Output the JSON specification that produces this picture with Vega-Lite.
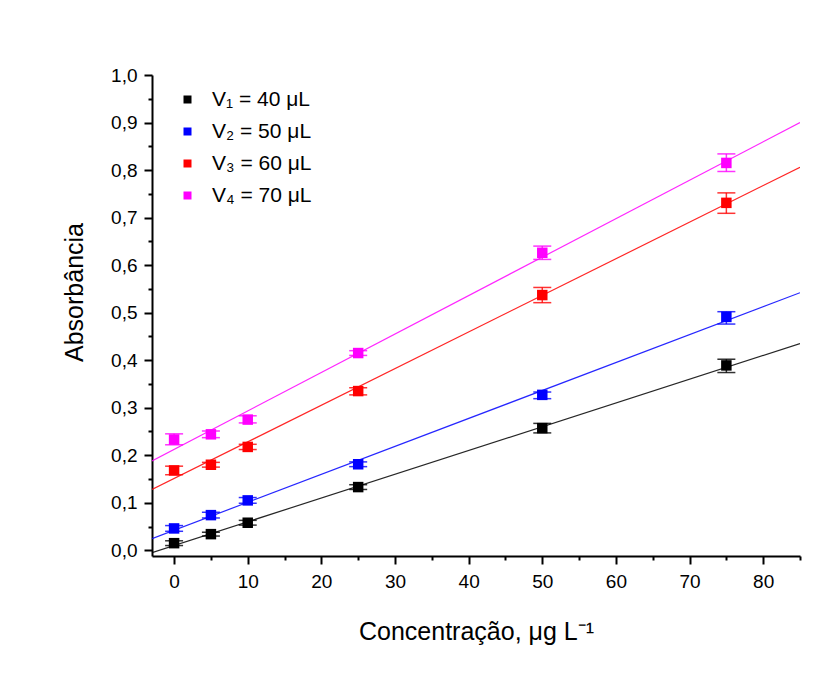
{
  "$schema": "https://vega.github.io/schema/vega-lite/v6.json",
  "autosize": {"type": "none"},
  "padding": {"left": 152, "top": 75, "right": 36, "bottom": 130},
  "width": 648,
  "height": 481,
  "background": "white",
  "config": {
    "font": "Liberation Sans",
    "view": {"stroke": null},
    "axis": {"domainColor": "black", "domainWidth": 2, "tickColor": "black", "tickWidth": 2, "labelColor": "black", "titleColor": "black", "labelFont": "Liberation Sans", "titleFont": "Liberation Sans", "labelFontSize": 19, "titleFontSize": 25, "titleFontWeight": "normal", "grid": false}
  },
  "datasets": {
    "pts": [
      {"series": "V₁ = 40 μL", "conc": 0, "abs": 0.015, "lo": 0.010, "hi": 0.020},
      {"series": "V₁ = 40 μL", "conc": 5, "abs": 0.034, "lo": 0.030, "hi": 0.038},
      {"series": "V₁ = 40 μL", "conc": 10, "abs": 0.058, "lo": 0.053, "hi": 0.063},
      {"series": "V₁ = 40 μL", "conc": 25, "abs": 0.133, "lo": 0.128, "hi": 0.138},
      {"series": "V₁ = 40 μL", "conc": 50, "abs": 0.257, "lo": 0.247, "hi": 0.267},
      {"series": "V₁ = 40 μL", "conc": 75, "abs": 0.389, "lo": 0.374, "hi": 0.402},
      {"series": "V₂ = 50 μL", "conc": 0, "abs": 0.046, "lo": 0.040, "hi": 0.052},
      {"series": "V₂ = 50 μL", "conc": 5, "abs": 0.074, "lo": 0.068, "hi": 0.080},
      {"series": "V₂ = 50 μL", "conc": 10, "abs": 0.105, "lo": 0.099, "hi": 0.111},
      {"series": "V₂ = 50 μL", "conc": 25, "abs": 0.181, "lo": 0.176, "hi": 0.186},
      {"series": "V₂ = 50 μL", "conc": 50, "abs": 0.327, "lo": 0.319, "hi": 0.333},
      {"series": "V₂ = 50 μL", "conc": 75, "abs": 0.491, "lo": 0.476, "hi": 0.502},
      {"series": "V₃ = 60 μL", "conc": 0, "abs": 0.168, "lo": 0.159, "hi": 0.177},
      {"series": "V₃ = 60 μL", "conc": 5, "abs": 0.180, "lo": 0.175, "hi": 0.185},
      {"series": "V₃ = 60 μL", "conc": 10, "abs": 0.2175, "lo": 0.212, "hi": 0.223},
      {"series": "V₃ = 60 μL", "conc": 25, "abs": 0.335, "lo": 0.327, "hi": 0.342},
      {"series": "V₃ = 60 μL", "conc": 50, "abs": 0.537, "lo": 0.521, "hi": 0.553},
      {"series": "V₃ = 60 μL", "conc": 75, "abs": 0.731, "lo": 0.709, "hi": 0.752},
      {"series": "V₄ = 70 μL", "conc": 0, "abs": 0.233, "lo": 0.222, "hi": 0.245},
      {"series": "V₄ = 70 μL", "conc": 5, "abs": 0.244, "lo": 0.237, "hi": 0.251},
      {"series": "V₄ = 70 μL", "conc": 10, "abs": 0.275, "lo": 0.268, "hi": 0.283},
      {"series": "V₄ = 70 μL", "conc": 25, "abs": 0.415, "lo": 0.410, "hi": 0.420},
      {"series": "V₄ = 70 μL", "conc": 50, "abs": 0.626, "lo": 0.612, "hi": 0.640},
      {"series": "V₄ = 70 μL", "conc": 75, "abs": 0.815, "lo": 0.797, "hi": 0.834}
    ],
    "fits": [
      {"series": "V₁ = 40 μL", "conc": -3, "abs": -0.005},
      {"series": "V₁ = 40 μL", "conc": 85, "abs": 0.435},
      {"series": "V₂ = 50 μL", "conc": -3, "abs": 0.0246},
      {"series": "V₂ = 50 μL", "conc": 85, "abs": 0.542},
      {"series": "V₃ = 60 μL", "conc": -3, "abs": 0.128},
      {"series": "V₃ = 60 μL", "conc": 85, "abs": 0.806},
      {"series": "V₄ = 70 μL", "conc": -3, "abs": 0.188},
      {"series": "V₄ = 70 μL", "conc": 85, "abs": 0.900}
    ]
  },
  "encoding": {
    "x": {"field": "conc", "type": "quantitative", "scale": {"domain": [-3, 85], "nice": false, "zero": false},
      "axis": {"title": "Concentração, μg L⁻¹", "values": [0,5,10,15,20,25,30,35,40,45,50,55,60,65,70,75,80,85],
        "labelExpr": "datum.value % 10 == 0 ? datum.label : ''", "labelPadding": 8,
        "tickSize": {"condition": {"test": "datum.value % 10 == 0", "value": 8}, "value": 4},
        "titleY": 83, "titleBaseline": "alphabetic"}},
    "y": {"field": "abs", "type": "quantitative", "scale": {"domain": [-0.012, 1.0], "nice": false, "zero": false},
      "axis": {"title": "Absorbância", "values": [0,0.05,0.1,0.15,0.2,0.25,0.3,0.35,0.4,0.45,0.5,0.55,0.6,0.65,0.7,0.75,0.8,0.85,0.9,0.95,1.0],
        "labelExpr": "round(datum.value*20) % 2 == 0 ? replace(format(datum.value, '.1f'), '.', ',') : ''", "labelPadding": 7,
        "tickSize": {"condition": {"test": "round(datum.value*20) % 2 == 0", "value": 8}, "value": 4},
        "titleX": -78, "titleY": 217, "titleAlign": "center", "titleBaseline": "middle", "titleAngle": -90}},
    "color": {"field": "series", "type": "nominal",
      "scale": {"domain": ["V₁ = 40 μL", "V₂ = 50 μL", "V₃ = 60 μL", "V₄ = 70 μL"], "range": ["#000000", "#0000ff", "#ff0000", "#ff00ff"]},
      "legend": {"title": null, "orient": "none", "legendX": 25, "legendY": 14, "symbolType": "square", "symbolSize": 64, "symbolStrokeWidth": 0, "symbolOpacity": 1,
        "labelFontSize": 21, "labelFont": "Liberation Sans", "labelColor": "black", "labelOffset": 14, "rowPadding": 10, "padding": 0}}
  },
  "layer": [
    {"data": {"name": "fits"}, "mark": {"type": "line", "strokeWidth": 1.2, "opacity": 0.85, "clip": true}, "encoding": {}},
    {"data": {"name": "pts"}, "mark": {"type": "rule", "strokeWidth": 1.5, "opacity": 0.8}, "encoding": {"y": {"field": "lo", "type": "quantitative"}, "y2": {"field": "hi"}}},
    {"data": {"name": "pts"}, "mark": {"type": "tick", "orient": "horizontal", "size": 18, "thickness": 1.5, "opacity": 0.8}, "encoding": {"y": {"field": "lo", "type": "quantitative"}}},
    {"data": {"name": "pts"}, "mark": {"type": "tick", "orient": "horizontal", "size": 18, "thickness": 1.5, "opacity": 0.8}, "encoding": {"y": {"field": "hi", "type": "quantitative"}}},
    {"data": {"name": "pts"}, "mark": {"type": "point", "shape": "square", "filled": true, "size": 110, "opacity": 1}, "encoding": {}}
  ]
}
